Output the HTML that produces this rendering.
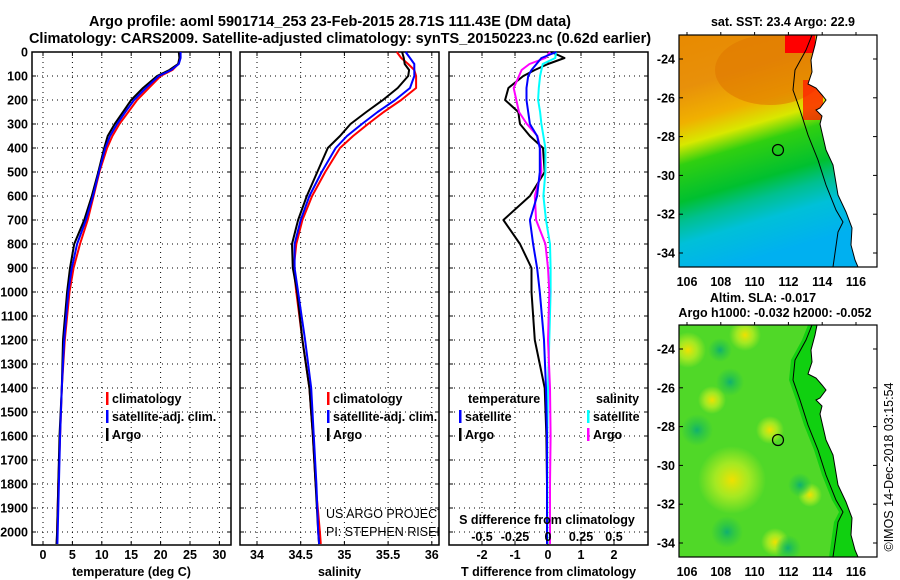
<!DOCTYPE html>
<html><head><meta charset="utf-8"><style>
body{margin:0;background:#fff;}
svg{display:block;font-family:"Liberation Sans",sans-serif;}
.b{font-weight:bold;font-size:12.5px;}
</style></head><body>
<svg id="s" width="900" height="580" viewBox="0 0 900 580">
<defs>
<clipPath id="c2"><rect x="240" y="52" width="199" height="493"/></clipPath>
<clipPath id="m1"><rect x="679" y="35" width="198" height="232"/></clipPath>
<clipPath id="m2"><rect x="679" y="325" width="198" height="232"/></clipPath>
<linearGradient id="sst" x1="0" y1="0" x2="0.25" y2="1">
<stop offset="0" stop-color="#e88a00"/><stop offset="0.22" stop-color="#e8900a"/>
<stop offset="0.36" stop-color="#f0b000"/><stop offset="0.45" stop-color="#d8e800"/>
<stop offset="0.53" stop-color="#30d010"/><stop offset="0.68" stop-color="#00c030"/>
<stop offset="0.76" stop-color="#00c090"/><stop offset="0.85" stop-color="#00c0d8"/>
<stop offset="1" stop-color="#00b0f0"/></linearGradient>
<radialGradient id="ylw"><stop offset="0" stop-color="#f0e000"/><stop offset="0.5" stop-color="#c8f020" stop-opacity="0.7"/><stop offset="1" stop-color="#c8f020" stop-opacity="0"/></radialGradient>
<radialGradient id="tea"><stop offset="0" stop-color="#10b070"/><stop offset="0.5" stop-color="#20c050" stop-opacity="0.6"/><stop offset="1" stop-color="#20c050" stop-opacity="0"/></radialGradient>
</defs>
<g id="g"></g>
</svg>
<script>
const depths=[0,25,50,75,100,150,200,250,300,350,400,500,600,700,800,900,1000,1200,1400,1600,1800,2000,2050];
const tArgo=[23.1,23.2,23,21.5,19.4,17,15,13.6,12.2,11,10.4,9.4,8.3,7,5.3,4.6,4.1,3.4,3.2,2.8,2.6,2.4,2.3];
const tClim=[23.3,23.3,23,22,20,18,16,14.5,13,11.8,10.9,9.6,8.6,7.6,6.3,5.2,4.5,3.7,3.2,2.9,2.6,2.4,2.35];
const tSat=[23.4,23.4,23.1,21.8,19.7,17.5,15.5,14,12.6,11.4,10.6,9.5,8.5,7.3,5.8,4.9,4.3,3.6,3.2,2.9,2.7,2.5,2.45];
const sArgo=[35.66,35.68,35.69,35.74,35.73,35.61,35.44,35.25,35.07,34.95,34.81,34.69,34.57,34.47,34.4,34.41,34.46,34.52,34.6,34.64,34.67,34.7,34.71];
const sClim=[35.6,35.65,35.73,35.8,35.82,35.82,35.65,35.45,35.27,35.1,34.95,34.78,34.63,34.52,34.45,34.42,34.45,34.52,34.6,34.64,34.67,34.72,34.73];
const sSat=[35.7,35.75,35.8,35.8,35.8,35.75,35.58,35.38,35.2,35.03,34.9,34.74,34.6,34.5,34.43,34.43,34.47,34.55,34.62,34.65,34.68,34.7,34.71];
const dTArgo=[0.1,0.5,0,-0.4,-0.75,-1.2,-1.3,-0.9,-0.85,-0.55,-0.15,-0.1,-0.55,-1.35,-0.85,-0.5,-0.5,-0.4,-0.1,-0.05,-0.03,-0.03,-0.03];
const dTSat=[0.25,-0.2,-0.35,-0.5,-0.6,-0.65,-0.65,-0.6,-0.55,-0.33,-0.25,-0.25,-0.33,-0.55,-0.45,-0.33,-0.25,-0.12,-0.06,-0.03,-0.03,-0.03,-0.03];
const dSArgo=[0.015,-0.02,-0.14,-0.2,-0.22,-0.26,-0.24,-0.22,-0.16,-0.08,-0.06,-0.05,-0.1,-0.09,-0.02,0,0.01,0,0.015,0.02,0.015,0.015,0.015];
const dSSat=[0.06,0.055,-0.04,-0.05,-0.06,-0.07,-0.075,-0.06,-0.05,-0.035,-0.02,-0.02,-0.035,-0.015,0.015,0.02,0.02,0.01,0,-0.005,-0.005,-0.005,-0.005];
const depthTicks=[0,100,200,300,400,500,600,700,800,900,1000,1100,1200,1300,1400,1500,1600,1700,1800,1900,2000];
const tTicks=[0,5,10,15,20,25,30];
const sTicks=[34,34.5,35,35.5,36];
const dTTicks=[-2,-1,0,1,2];
const dSTicks=[-0.5,-0.25,0,0.25,0.5];
const dSTickLabels=["-0.5","-0.25","0","0.25","0.5"];

const NS="http://www.w3.org/2000/svg";
const G=document.getElementById('g');
function mk(tag,a,parent){const e=document.createElementNS(NS,tag);for(const k in a)e.setAttribute(k,a[k]);(parent||G).appendChild(e);return e;}
const yD=d=>52+0.24*d;
const xT=t=>43+5.88*t;
const xS=s=>257+87.4*(s-34);
const xDT=t=>548+33*t;
const xDS=s=>548+132*s;
const panels=[{x0:32,x1:231,name:'temperature-panel',f:xT,ticks:tTicks,lab:tTicks.map(String),title:'temperature (deg C)'},
{x0:240,x1:439,name:'salinity-panel',f:xS,ticks:sTicks,lab:["34","34.5","35","35.5","36"],title:'salinity'},
{x0:449,x1:648,name:'difference-panel',f:xDT,ticks:dTTicks,lab:dTTicks.map(String),title:'T difference from climatology'}];
let e=mk('text',{x:330,y:26,'text-anchor':'middle','font-size':'14.5','font-weight':'bold'});


e.textContent='Argo profile: aoml 5901714_253 23-Feb-2015 28.71S 111.43E (DM data)';
e=mk('text',{x:340,y:43,'text-anchor':'middle','font-size':'14.5','font-weight':'bold'});


e.textContent='Climatology: CARS2009. Satellite-adjusted climatology: synTS_20150223.nc (0.62d earlier)';
panels.forEach(p=>{
 const g=mk('g',{});
 
 
 depthTicks.forEach(d=>{const l=mk('line',{x1:p.x0,x2:p.x1,y1:yD(d),y2:yD(d),stroke:'#000','stroke-width':1,'stroke-dasharray':'1 4'},g);
  
  
  mk('line',{x1:p.x0,x2:p.x0+4,y1:yD(d),y2:yD(d),stroke:'#000'},g);mk('line',{x1:p.x1-4,x2:p.x1,y1:yD(d),y2:yD(d),stroke:'#000'},g);});
 p.ticks.forEach((t,i)=>{const x=p.f(t);const l=mk('line',{x1:x,x2:x,y1:52,y2:545,stroke:'#000','stroke-dasharray':'1 4'},g);
  
  
  mk('line',{x1:x,x2:x,y1:52,y2:56,stroke:'#000'},g);mk('line',{x1:x,x2:x,y1:541,y2:545,stroke:'#000'},g);
  const tx=mk('text',{x:x,y:559,'text-anchor':'middle',class:'b'},g);
  
  
  tx.textContent=p.lab[i];});
 const r=mk('rect',{x:p.x0,y:52,width:p.x1-p.x0,height:493,fill:'none',stroke:'#000','stroke-width':1.5},g);
 
 
 const tt=mk('text',{x:(p.x0+p.x1)/2,y:576,'text-anchor':'middle',class:'b'},g);
 
 
 tt.textContent=p.title;
});
depthTicks.forEach(d=>{const t=mk('text',{x:28,y:yD(d)+4.5,'text-anchor':'end',class:'b'});
 
 
 t.textContent=String(d);});
function line(vals,fx,color,name,w){
 const pts=vals.map((v,i)=>fx(v).toFixed(1)+','+yD(depths[i]).toFixed(1)).join(' ');
 const l=mk('polyline',{points:pts,fill:'none',stroke:color,'stroke-width':w||2,'stroke-linejoin':'round'});
 
 
}
line(tClim,xT,'#f00','temperature-climatology-line');
line(tArgo,xT,'#000','temperature-argo-line');
line(tSat,xT,'#00f','temperature-satellite-line');
line(sClim,xS,'#f00','salinity-climatology-line');
line(sArgo,xS,'#000','salinity-argo-line');
line(sSat,xS,'#00f','salinity-satellite-line');
line(dTArgo,xDT,'#000','t-diff-argo-line');
line(dSSat,xDS,'#00ffff','s-diff-satellite-line');
line(dSArgo,xDS,'#ff00ff','s-diff-argo-line');
line(dTSat,xDT,'#00f','t-diff-satellite-line');
function leg(x,y,color,text,name){const g=mk('g',{});
 
 
 mk('rect',{x:x,y:y-11,width:2.5,height:13,fill:color},g);
 const t=mk('text',{x:x+6,y:y,class:'b'},g);t.textContent=text;}
leg(106,403,'#f00','climatology','legend-climatology');
leg(106,421,'#00f','satellite-adj. clim.','legend-satellite-adj');
leg(106,439,'#000','Argo','legend-argo');
leg(327,403,'#f00','climatology','legend-climatology-salinity');
leg(327,421,'#00f','satellite-adj. clim.','legend-satellite-adj-salinity');
leg(327,439,'#000','Argo','legend-argo-salinity');
leg(459,421,'#00f','satellite','legend-t-satellite');
leg(459,439,'#000','Argo','legend-t-argo');
leg(587,421,'#00ffff','satellite','legend-s-satellite');
leg(587,439,'#ff00ff','Argo','legend-s-argo');
e=mk('text',{x:468,y:403,class:'b'});e.textContent='temperature';


e=mk('text',{x:596,y:403,class:'b'});e.textContent='salinity';


e=mk('text',{x:547,y:524,'text-anchor':'middle',class:'b'});e.textContent='S difference from climatology';


dSTicks.forEach((s,i)=>{const t=mk('text',{x:xDS(s),y:541,'text-anchor':'middle',class:'b'});
 
 
 t.textContent=dSTickLabels[i];});
e=mk('text',{x:326,y:518,'font-size':'12.5','clip-path':'url(#c2)'});e.textContent='US ARGO PROJECT';


e=mk('text',{x:326,y:536,'font-size':'12.5','clip-path':'url(#c2)'});e.textContent='PI: STEPHEN RISER';



const mapLats=[-24,-26,-28,-30,-32,-34];
const mapLons=[106,108,110,112,114,116];
const coast=[[817,35],[815,45],[811,60],[812,72],[808,84],[816,88],[822,95],[826,100],[820,108],[816,110],[822,116],[820,124],[826,150],[833,165],[838,195],[846,212],[852,228],[851,245],[855,260],[858,267],[877,267],[877,35]];
const shelf=[[812,35],[806,50],[795,70],[793,90],[800,110],[808,135],[818,160],[826,185],[836,210],[843,222],[838,232],[833,267]];
function map(top,name,clip,sst){
 const g=mk('g',{'clip-path':'url(#'+clip+')'});
 
 
 const off=top-35;
 if(sst){
  mk('rect',{x:679,y:top,width:198,height:232,fill:'url(#sst)'},g);
  mk('ellipse',{cx:770,cy:top+35,rx:55,ry:35,fill:'#e07800',opacity:0.6},g);
  mk('rect',{x:785,y:top,width:30,height:18,fill:'#ff0000'},g);
  mk('rect',{x:803,y:top+45,width:20,height:40,fill:'#ff2000',opacity:0.8},g);
 } else {
  mk('rect',{x:679,y:top,width:198,height:232,fill:'#50d828'},g);
  [[688,60,18],[745,45,16],[732,190,34],[770,140,14],[712,110,14],[775,252,14],[810,205,12]].forEach(b=>mk('circle',{cx:b[0],cy:top+b[1]-35,r:b[2],fill:'url(#ylw)'},g));
  [[730,92,14],[697,140,16],[727,242,16],[788,258,13],[800,195,12],[720,60,12]].forEach(b=>mk('circle',{cx:b[0],cy:top+b[1]-35,r:b[2],fill:'url(#tea)'},g));
 }
 const cp=coast.map(p=>p[0]+','+(p[1]+off)).join(' ');
 if(!sst){mk('polygon',{points:shelf.map(p=>(p[0]-4)+','+(p[1]+off)).concat(coast.slice(0,20).reverse().map(p=>(p[0]+6)+','+(p[1]+off))).join(' '),fill:'#10d010'},g);}
 mk('polygon',{points:cp,fill:'#fff',stroke:'#000','stroke-width':1},g);
 mk('polyline',{points:shelf.map(p=>p[0]+','+(p[1]+off)).join(' '),fill:'none',stroke:'#000','stroke-width':1},g);
 const c=mk('circle',{cx:778,cy:top+115,r:5.5,fill:'none',stroke:'#000','stroke-width':1.2});
 
 
 const f=mk('rect',{x:679,y:top,width:198,height:232,fill:'none',stroke:'#000','stroke-width':1.2});
 
 
 mapLats.forEach(la=>{const y=top+24+(-24-la)*19.4;
  mk('line',{x1:873,x2:877,y1:y,y2:y,stroke:'#000'});mk('line',{x1:679,x2:683,y1:y,y2:y,stroke:'#000'});
  const t=mk('text',{x:675,y:y+4.5,'text-anchor':'end',class:'b'});
  
  
  t.textContent=String(la);});
 mapLons.forEach(lo=>{const x=687+(lo-106)*16.9;
  mk('line',{x1:x,x2:x,y1:top,y2:top-3,stroke:'#000'});
  const t=mk('text',{x:x,y:top+251,'text-anchor':'middle',class:'b'});
  
  
  t.textContent=String(lo);});
}
map(35,'sst-map','m1',true);
map(325,'sla-map','m2',false);
e=mk('text',{x:783,y:26,'text-anchor':'middle',class:'b'});e.textContent='sat. SST: 23.4 Argo: 22.9';


e=mk('text',{x:763,y:302,'text-anchor':'middle',class:'b'});e.textContent='Altim. SLA: -0.017';


e=mk('text',{x:775,y:317,'text-anchor':'middle',class:'b'});e.textContent='Argo h1000: -0.032 h2000: -0.052';


e=mk('text',{x:0,y:0,'text-anchor':'middle','font-size':'12.5',transform:'translate(893,467) rotate(-90)'});e.textContent='©IMOS 14-Dec-2018 03:15:54';


</script>
</body></html>
